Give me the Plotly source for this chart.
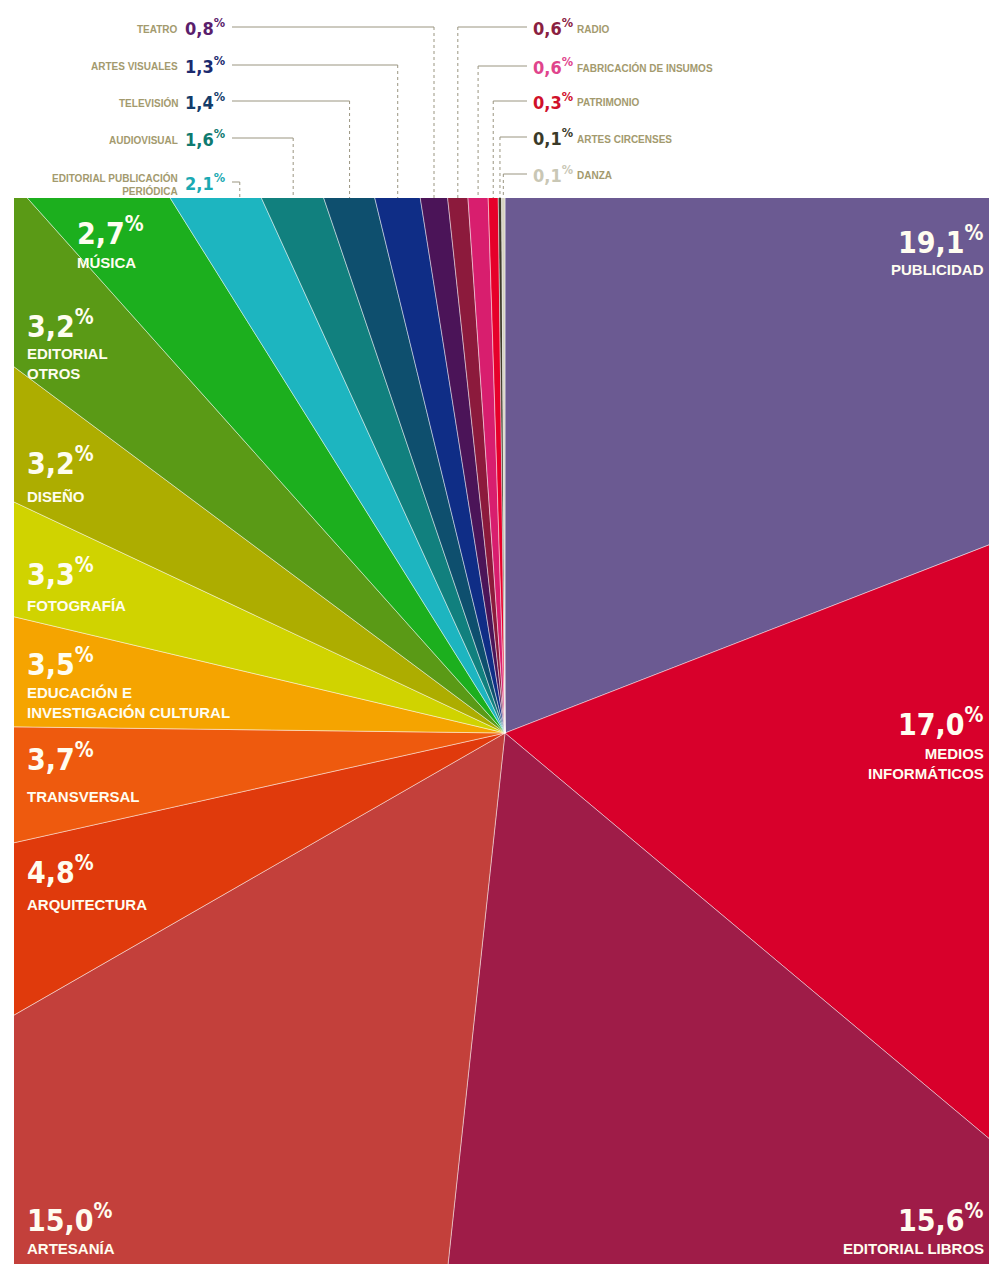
import math
import plotly.graph_objects as go

# ---------------- data ----------------
categories = ["Publicidad", "Medios informáticos", "Editorial libros", "Artesanía",
              "Arquitectura", "Transversal", "Educación e investigación cultural",
              "Fotografía", "Diseño", "Editorial otros", "Música",
              "Editorial publicación periódica", "Audiovisual", "Televisión",
              "Artes visuales", "Teatro", "Radio", "Fabricación de insumos",
              "Patrimonio", "Artes circenses", "Danza"]
values = [19.1, 17.0, 15.6, 15.0, 4.8, 3.7, 3.5, 3.3, 3.2, 3.2, 2.7,
          2.1, 1.6, 1.4, 1.3, 0.8, 0.6, 0.6, 0.3, 0.1, 0.1]
colors = ["#6B5A92", "#D8002B", "#9F1C48", "#C3403B", "#E03A0C", "#EE5A0E",
          "#F5A400", "#D0D300", "#ADAD00", "#5A9A16", "#1CAF1E",
          "#1DB5C0", "#11807E", "#0E4F6E", "#0F2D86", "#4B1458", "#8C1A3C",
          "#D81E6E", "#E6002A", "#3E3A2A", "#D6D2C0"]
display_names = ["PUBLICIDAD", "MEDIOS<br>INFORMÁTICOS", "EDITORIAL LIBROS", "ARTESANÍA",
                 "ARQUITECTURA", "TRANSVERSAL", "EDUCACIÓN E<br>INVESTIGACIÓN CULTURAL",
                 "FOTOGRAFÍA", "DISEÑO", "EDITORIAL<br>OTROS", "MÚSICA",
                 "EDITORIAL PUBLICACIÓN<br>PERIÓDICA", "AUDIOVISUAL", "TELEVISIÓN",
                 "ARTES VISUALES", "TEATRO", "RADIO", "FABRICACIÓN DE INSUMOS",
                 "PATRIMONIO", "ARTES CIRCENSES", "DANZA"]
callout_left = ["Teatro", "Artes visuales", "Televisión", "Audiovisual",
                "Editorial publicación periódica"]
callout_right = ["Radio", "Fabricación de insumos", "Patrimonio", "Artes circenses", "Danza"]
callout_pct_colors = {"Teatro": "#5A1E6C", "Artes visuales": "#1B2A6E", "Televisión": "#133C6A",
                      "Audiovisual": "#0F7A70", "Editorial publicación periódica": "#1AA9B2",
                      "Radio": "#8A2040", "Fabricación de insumos": "#E0448C",
                      "Patrimonio": "#D0102A", "Artes circenses": "#3A3A28", "Danza": "#C9C7B5"}

# ---------------- layout constants ----------------
W, H = 989, 1264
X0, X1, Y0, Y1 = 14, 989, 198, 1264     # clipping rectangle (pixels)
CX, CY = 505, 733                        # pie centre (pixels)
R = 2200
WHITE = "#FFFDF0"
NAME_COL = "#A39A6E"
LEAD_COL = "#9A9580"
PCT_FONT = "DejaVu Sans Condensed, Liberation Sans, sans-serif"
NAME_FONT = "Liberation Sans, sans-serif"

def fmt(v):
    return ("%.1f" % v).replace(".", ",")

def pt(theta_deg, r):
    t = math.radians(theta_deg)
    return CX + r * math.sin(t), CY - r * math.cos(t)

def px(x):
    return x / W

def py_(y):
    return 1 - y / H

fig = go.Figure()

# wedges
cum = 0.0
angles = {}
for cat, v, col in zip(categories, values, colors):
    a0 = 360.0 * cum / 100.0
    a1 = 360.0 * (cum + v) / 100.0
    angles[cat] = (a0, a1)
    xs, ys = [CX], [CY]
    n = max(2, int((a1 - a0) / 0.5) + 2)
    for i in range(n):
        x, y = pt(a0 + (a1 - a0) * i / (n - 1), R)
        xs.append(x); ys.append(y)
    xs.append(CX); ys.append(CY)
    fig.add_trace(go.Scatter(x=xs, y=ys, mode="lines", fill="toself", fillcolor=col,
                             line=dict(color="rgba(255,255,255,0.45)", width=1),
                             hoverinfo="skip", showlegend=False, xaxis="x", yaxis="y"))
    cum += v

# inside labels (layout: anchor side, x, percent y, name top y)
inside = {
    "Publicidad": ("right", 986, 240, 259),
    "Medios informáticos": ("right", 986, 722, 743),
    "Editorial libros": ("right", 986, 1218, 1238),
    "Artesanía": ("left", 25, 1218, 1238),
    "Arquitectura": ("left", 25, 870, 894),
    "Transversal": ("left", 25, 757, 786),
    "Educación e investigación cultural": ("left", 25, 662, 682),
    "Fotografía": ("left", 25, 572, 595),
    "Diseño": ("left", 25, 462, 486),
    "Editorial otros": ("left", 25, 325, 343),
    "Música": ("left", 75, 232, 252),
}
annotations = []
for cat, v, name in zip(categories, values, display_names):
    if cat not in inside:
        continue
    side, x, py, ny = inside[cat]
    annotations.append(dict(x=px(x), y=py_(py), xref="paper", yref="paper",
                            xanchor=side, yanchor="middle",
                            text="%s<sup>%%</sup>" % fmt(v), showarrow=False,
                            font=dict(family=PCT_FONT, size=30, color=WHITE, weight="bold"),
                            align=side))
    annotations.append(dict(x=px(x), y=py_(ny), xref="paper", yref="paper",
                            xanchor=side, yanchor="top",
                            text=name, showarrow=False,
                            font=dict(family=NAME_FONT, size=15, color=WHITE, weight="bold"),
                            align=side))

# top callouts
left_y = [27, 65, 101, 138, 182]
right_y = [27, 66, 101, 137, 174]
land_frac = {"Editorial publicación periódica": 0.75}
val_of = dict(zip(categories, values))
name_of = dict(zip(categories, display_names))

def landing_x(cat):
    a0, a1 = angles[cat]
    f = land_frac.get(cat, 0.5)
    a = a0 + (a1 - a0) * f
    t = math.radians(a)
    return CX + (CY - Y0) * math.tan(t)

for cat, y in zip(callout_left, left_y):
    lx = landing_x(cat)
    fig.add_trace(go.Scatter(x=[232, lx], y=[y, y], mode="lines",
                             line=dict(color=LEAD_COL, width=1), hoverinfo="skip",
                             showlegend=False, xaxis="x2", yaxis="y2"))
    fig.add_trace(go.Scatter(x=[lx, lx], y=[y, Y0], mode="lines",
                             line=dict(color=LEAD_COL, width=1, dash="dot"), hoverinfo="skip",
                             showlegend=False, xaxis="x2", yaxis="y2"))
    annotations.append(dict(x=px(183), y=py_(y), xref="paper", yref="paper",
                            xanchor="left", yanchor="middle",
                            text="%s<sup>%%</sup>" % fmt(val_of[cat]), showarrow=False,
                            font=dict(family=PCT_FONT, size=18, color=callout_pct_colors[cat],
                                      weight="bold")))
    annotations.append(dict(x=px(180), y=py_(y + 2), xref="paper", yref="paper",
                            xanchor="right", yanchor="middle",
                            text=name_of[cat], showarrow=False, align="right",
                            font=dict(family=NAME_FONT, size=10, color=NAME_COL, weight="bold")))

for cat, y in zip(callout_right, right_y):
    lx = landing_x(cat)
    fig.add_trace(go.Scatter(x=[lx, 527], y=[y, y], mode="lines",
                             line=dict(color=LEAD_COL, width=1), hoverinfo="skip",
                             showlegend=False, xaxis="x2", yaxis="y2"))
    fig.add_trace(go.Scatter(x=[lx, lx], y=[y, Y0], mode="lines",
                             line=dict(color=LEAD_COL, width=1, dash="dot"), hoverinfo="skip",
                             showlegend=False, xaxis="x2", yaxis="y2"))
    annotations.append(dict(x=px(531), y=py_(y), xref="paper", yref="paper",
                            xanchor="left", yanchor="middle",
                            text="%s<sup>%%</sup>" % fmt(val_of[cat]), showarrow=False,
                            font=dict(family=PCT_FONT, size=18, color=callout_pct_colors[cat],
                                      weight="bold")))
    annotations.append(dict(x=px(575), y=py_(y + 2), xref="paper", yref="paper",
                            xanchor="left", yanchor="middle",
                            text=name_of[cat], showarrow=False, align="left",
                            font=dict(family=NAME_FONT, size=10, color=NAME_COL, weight="bold")))

ax = dict(visible=False, showgrid=False, zeroline=False, fixedrange=True)
fig.update_layout(
    width=W, height=H, margin=dict(l=0, r=0, t=0, b=0),
    paper_bgcolor="white", plot_bgcolor="rgba(0,0,0,0)", showlegend=False,
    xaxis=dict(ax, domain=[X0 / W, 1], range=[X0, X1], anchor="y"),
    yaxis=dict(ax, domain=[0, 1 - Y0 / H], range=[Y1, Y0], anchor="x"),
    xaxis2=dict(ax, domain=[0, 1], range=[0, W], anchor="y2"),
    yaxis2=dict(ax, domain=[0, 1], range=[H, 0], anchor="x2"),
    annotations=annotations,
)
fig.write_html("out.html")
